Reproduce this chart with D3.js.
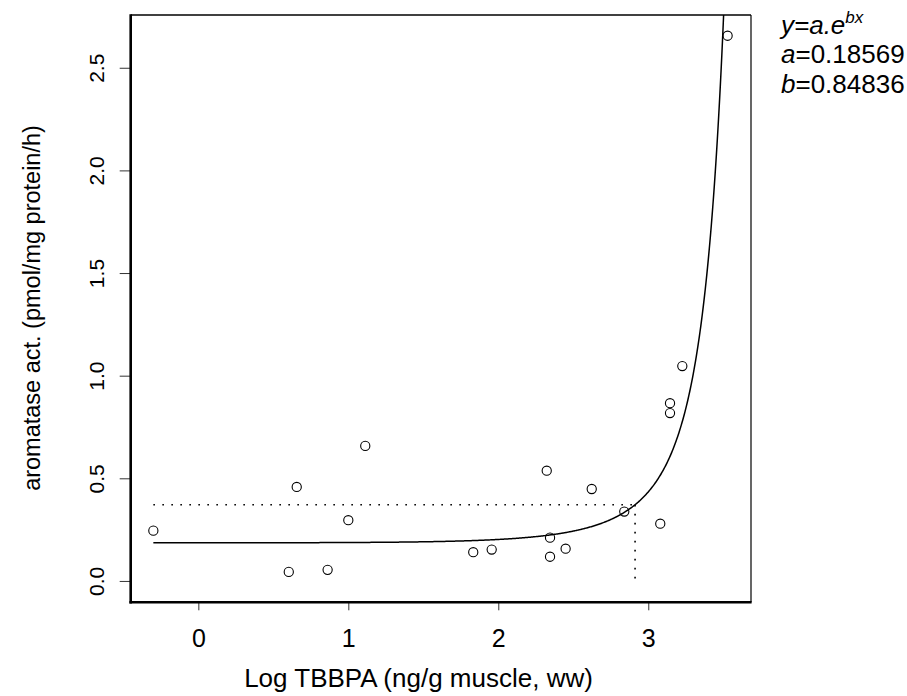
<!DOCTYPE html>
<html>
<head>
<meta charset="utf-8">
<script src="https://cdn.jsdelivr.net/npm/d3@7"></script>
<style>
  html, body { margin: 0; padding: 0; background: #fff; }
  svg { display: block; font-family: Arial, "Liberation Sans", sans-serif; }
</style>
</head>
<body>
<svg id="chart" width="907" height="696"></svg>
<script>
// ---- data ----
const logTBBPA = [-0.30, 0.603, 0.656, 0.862, 1.000, 1.113, 1.833, 1.956, 2.323, 2.345, 2.345, 2.449, 2.623, 2.840, 3.080, 3.145, 3.145, 3.227, 3.529];
const aromatase = [0.245, 0.044, 0.458, 0.054, 0.296, 0.658, 0.140, 0.153, 0.537, 0.211, 0.118, 0.157, 0.448, 0.338, 0.279, 0.866, 0.818, 1.047, 2.656];
const xTicks = [0, 1, 2, 3];
const yTicks = [0.0, 0.5, 1.0, 1.5, 2.0, 2.5];
// fitted model parameters shown on the chart
const fitA = 0.18569;
const fitB = 0.84836;
// reference (dotted) lines
const refY = 0.371;
const refX = 2.912;
const xLabel = "Log TBBPA (ng/g muscle, ww)";
const yLabel = "aromatase act.  (pmol/mg protein/h)";

// ---- layout ----
const FONT = "Arial, 'Liberation Sans', sans-serif";
const svg = d3.select("#chart");
const L = 130.7, R = 751, T = 15, B = 602.3;
const x = d3.scaleLinear().domain([-0.451, 3.685]).range([L, R]);
const y = d3.scaleLinear().domain([-0.104, 2.757]).range([B, T]);

svg.append("defs").append("clipPath").attr("id", "plotclip")
  .append("rect").attr("x", L).attr("y", T).attr("width", R - L).attr("height", B - T);

// axes ticks
const xAxis = svg.append("g").attr("transform", `translate(0,${B})`)
  .call(d3.axisBottom(x).tickValues(xTicks).tickSize(8).tickPadding(19).tickFormat(d3.format("d")));
xAxis.select(".domain").remove();
xAxis.selectAll("line").attr("stroke", "#333").attr("stroke-width", 1);
xAxis.selectAll("text").attr("font-size", 25).attr("fill", "#000").attr("font-family", FONT);

const yAxis = svg.append("g").attr("transform", `translate(${L},0)`)
  .call(d3.axisLeft(y).tickValues(yTicks).tickSize(11).tickFormat(d3.format(".1f")));
yAxis.select(".domain").remove();
yAxis.selectAll("line").attr("stroke", "#333").attr("stroke-width", 1);
yAxis.selectAll("text").remove();
yAxis.selectAll(".tick").append("text")
  .attr("transform", `translate(${104 - L},0) rotate(-90)`)
  .attr("text-anchor", "middle")
  .attr("font-size", 21)
  .attr("fill", "#000")
  .attr("font-family", FONT)
  .text(d => d3.format(".1f")(d));

// box
svg.append("line").attr("x1", L).attr("x2", R).attr("y1", T).attr("y2", T).attr("stroke", "#000").attr("stroke-width", 1.5);
svg.append("line").attr("x1", R).attr("x2", R).attr("y1", T).attr("y2", B).attr("stroke", "#000").attr("stroke-width", 1.2);
svg.append("line").attr("x1", L).attr("x2", L).attr("y1", T - 0.75).attr("y2", B + 1.25).attr("stroke", "#000").attr("stroke-width", 2.6);
svg.append("line").attr("x1", L - 1.3).attr("x2", R + 0.6).attr("y1", B).attr("y2", B).attr("stroke", "#000").attr("stroke-width", 2.6);

const plot = svg.append("g").attr("clip-path", "url(#plotclip)");

// dotted reference lines
plot.append("line").attr("x1", x(d3.min(logTBBPA))).attr("x2", x(refX))
  .attr("y1", y(refY)).attr("y2", y(refY))
  .attr("stroke", "#000").attr("stroke-width", 1.6).attr("stroke-dasharray", "1.6,7.4");
plot.append("line").attr("x1", x(refX)).attr("x2", x(refX))
  .attr("y1", y(refY)).attr("y2", y(0))
  .attr("stroke", "#000").attr("stroke-width", 1.6).attr("stroke-dasharray", "1.6,7.4");

// fitted curve y = a * exp(b * X), X = 10^(logx) / 1000
const xs = d3.range(d3.min(logTBBPA), x.domain()[1], 0.005);
const curve = xs.map(v => [v, fitA * Math.exp(fitB * Math.pow(10, v - 3))]);
plot.append("path").datum(curve)
  .attr("fill", "none").attr("stroke", "#000").attr("stroke-width", 1.5)
  .attr("d", d3.line().x(d => x(d[0])).y(d => y(Math.min(d[1], 3.2))));

// points
plot.selectAll("circle.pt").data(logTBBPA).enter().append("circle")
  .attr("class", "pt")
  .attr("cx", d => x(d))
  .attr("cy", (d, i) => y(aromatase[i]))
  .attr("r", 4.6)
  .attr("fill", "none").attr("stroke", "#000").attr("stroke-width", 1.1);

// axis titles
svg.append("text").attr("x", 418.5).attr("y", 687).attr("text-anchor", "middle")
  .attr("font-size", 26).text(xLabel);
svg.append("text").attr("transform", `translate(40,308) rotate(-90)`).attr("text-anchor", "middle")
  .attr("font-size", 23.5).text(yLabel);

// equation annotation
const ann = svg.append("g").attr("font-size", 26);
const t1 = ann.append("text").attr("x", 781).attr("y", 34);
t1.append("tspan").attr("font-style", "italic").text("y=a.e");
t1.append("tspan").attr("font-style", "italic").attr("font-size", 17).attr("dy", -11).text("bx");
const t2 = ann.append("text").attr("x", 781).attr("y", 63);
t2.append("tspan").attr("font-style", "italic").text("a");
t2.append("tspan").text("=" + fitA.toFixed(5));
const t3 = ann.append("text").attr("x", 781).attr("y", 93);
t3.append("tspan").attr("font-style", "italic").text("b");
t3.append("tspan").text("=" + fitB.toFixed(5));
</script>
</body>
</html>
